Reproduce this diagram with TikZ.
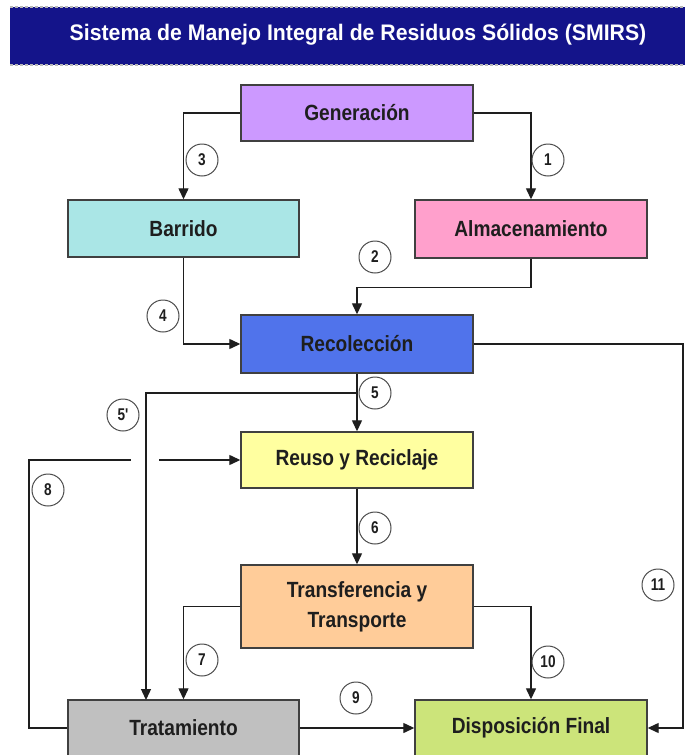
\documentclass[tikz,border=0pt]{standalone}
\usepackage{fontspec}
\setmainfont{Liberation Sans}
\newfontfamily\boxfont[FakeStretch=0.87]{Liberation Sans}
\newfontfamily\numfont[FakeStretch=0.8]{Liberation Sans}
\newfontfamily\headfont[FakeStretch=0.945]{Liberation Sans}
\usetikzlibrary{arrows.meta}

\definecolor{barblue}{HTML}{14148A}
\definecolor{cGen}{HTML}{CC99FF}
\definecolor{cBar}{HTML}{AAE6E6}
\definecolor{cAlm}{HTML}{FFA0CC}
\definecolor{cRec}{HTML}{5073EB}
\definecolor{cReu}{HTML}{FFFFA0}
\definecolor{cTra}{HTML}{FFCC99}
\definecolor{cTrat}{HTML}{C0C0C0}
\definecolor{cDis}{HTML}{CCE47A}
\definecolor{ink}{HTML}{1E1E1E}

\tikzset{
  stage/.style={draw=ink!85, line width=1.4pt, minimum width=232pt, minimum height=56pt,
    inner sep=0pt, align=center, text=ink,
    font=\boxfont\bfseries\fontsize{22}{30}\selectfont},
  arr/.style={draw=ink, line width=1.3pt, -{Triangle[length=11pt,width=10pt]}},
  link/.style={draw=ink, line width=1.3pt},
  tag/.style={circle, draw=ink!80, line width=1pt, fill=white, minimum size=32pt,
    inner sep=0pt, text=ink, font=\numfont\bfseries\fontsize{17}{17}\selectfont},
}

\begin{document}
\begin{tikzpicture}[x=1pt, y=-1pt]
\useasboundingbox (0,0) rectangle (685,755);
\clip (0,0) rectangle (685,755);
\fill[white] (0,0) rectangle (685,755);

% title banner
\fill[barblue] (10,7) rectangle (690,65);
\draw[gray!55, line width=1.2pt, dash pattern=on 3pt off 2pt] (10,7) -- (690,7);
\draw[gray!55, line width=1.2pt, dash pattern=on 3pt off 2pt] (10,65) -- (690,65);
\node[text=white, font=\headfont\bfseries\fontsize{22.5}{26}\selectfont] (title) at (358,35)
  {Sistema de Manejo Integral de Residuos Sólidos (SMIRS)};

% stages
\node[stage, fill=cGen] (gen) at (357,113) {Generación};
\node[stage, fill=cBar, minimum width=231pt, minimum height=57pt] (bar) at (183.5,228.5) {Barrido};
\node[stage, fill=cAlm, minimum height=58pt] (alm) at (531,229) {Almacenamiento};
\node[stage, fill=cRec, minimum height=58pt] (rec) at (357,344) {Recolección};
\node[stage, fill=cReu] (reu) at (357,460) {Reuso y Reciclaje};
\node[stage, fill=cTra, minimum height=83pt] (tra) at (357,606.5) {Transferencia y\\Transporte};
\node[stage, fill=cTrat, minimum width=231pt] (trat) at (183.5,728) {Tratamiento};
\node[stage, fill=cDis] (dis) at (531,728) {Disposición Final};

% junction and bend points
\coordinate (b5) at (357,393);
\coordinate (t5) at (146,700);
\coordinate (l8) at (29,460);
\coordinate (g8a) at (131,460);
\coordinate (g8b) at (159,460);
\coordinate (r11) at (683,728);

% connectors
\draw[arr] (gen.west) -| (bar.north);
\draw[arr] (gen.east) -| (alm.north);
\draw[arr] (alm.south) -- ++(0,29) -| (rec.north);
\draw[arr] (bar.south) |- (rec.west);
\draw[arr] (rec.south) -- (reu.north);
\draw[arr] (b5) -| (t5);
\draw[link] (trat.west) -| (l8) -- (g8a);
\draw[arr] (g8b) -- (reu.west);
\draw[arr] (reu.south) -- (tra.north);
\draw[arr] (tra.west) -| (trat.north);
\draw[arr] (tra.east) -| (dis.north);
\draw[arr] (trat.east) -- (dis.west);
\draw[arr] (rec.east) -| (r11) -- (dis.east);

% flow numbers
\node[tag] (n1) at (548,160) {1};
\node[tag] (n2) at (375,257) {2};
\node[tag] (n3) at (202,160) {3};
\node[tag] (n4) at (163,316) {4};
\node[tag] (n5) at (375,393) {5};
\node[tag] (n5p) at (123,415) {5'};
\node[tag] (n6) at (375,528) {6};
\node[tag] (n7) at (202,660) {7};
\node[tag] (n8) at (48,490) {8};
\node[tag] (n9) at (356,698) {9};
\node[tag] (n10) at (548,662) {10};
\node[tag] (n11) at (658,585) {11};
\end{tikzpicture}
\end{document}
